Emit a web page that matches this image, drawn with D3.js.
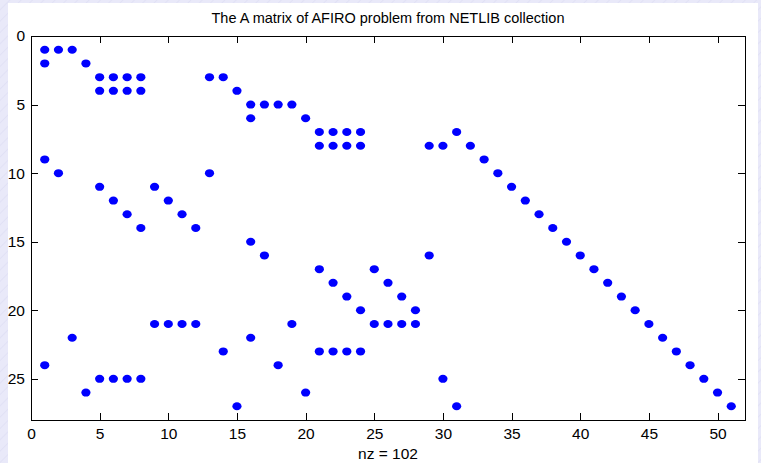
<!DOCTYPE html>
<html>
<head>
<meta charset="utf-8">
<script src="https://cdn.jsdelivr.net/npm/d3@7"></script>
<style>
  html, body { margin: 0; padding: 0; }
  body {
    width: 761px; height: 463px; overflow: hidden;
    background: repeating-linear-gradient(135deg, #e9e9f9 0px, #e9e9f9 6px, #e1e1f5 7px, #e9e9f9 8px);
  }
  svg { display: block; }
  text { font-family: "Liberation Sans", Arial, sans-serif; fill: #000; }
</style>
</head>
<body>
<div id="spy"></div>
<script>
// nonzero pattern of the AFIRO A matrix (row index, column index)
var rowIdx = [1, 2, 9, 24,  1, 10,  1, 22,  2, 26,
              3, 4, 11, 25,  3, 4, 12, 25,  3, 4, 13, 25,  3, 4, 14, 25,
              11, 21,  12, 21,  13, 21,  14, 21,
              3, 10,  3, 23,  4, 27,
              5, 6, 15, 22,  5, 16,  5, 24,  5, 21,  6, 26,
              7, 8, 17, 23,  7, 8, 18, 23,  7, 8, 19, 23,  7, 8, 20, 23,
              17, 21,  18, 21,  19, 21,  20, 21,
              8, 16,  8, 25,  7, 27,
              8, 9, 10, 11, 12, 13, 14, 15, 16, 17, 18, 19, 20, 21, 22, 23, 24, 25, 26, 27];
var colIdx = [1, 1, 1, 1,  2, 2,  3, 3,  4, 4,
              5, 5, 5, 5,  6, 6, 6, 6,  7, 7, 7, 7,  8, 8, 8, 8,
              9, 9,  10, 10,  11, 11,  12, 12,
              13, 13,  14, 14,  15, 15,
              16, 16, 16, 16,  17, 17,  18, 18,  19, 19,  20, 20,
              21, 21, 21, 21,  22, 22, 22, 22,  23, 23, 23, 23,  24, 24, 24, 24,
              25, 25,  26, 26,  27, 27,  28, 28,
              29, 29,  30, 30,  31, 31,
              32, 33, 34, 35, 36, 37, 38, 39, 40, 41, 42, 43, 44, 45, 46, 47, 48, 49, 50, 51];

var xTicks = [0, 5, 10, 15, 20, 25, 30, 35, 40, 45, 50];
var yTicks = [0, 5, 10, 15, 20, 25];
var nRows = 27, nCols = 51;

var titleText = "The A matrix of AFIRO problem from NETLIB collection";

var W = 761, H = 463;
var margin = { top: 36, right: 16, bottom: 43, left: 31 };

var svg = d3.select("#spy").append("svg")
    .attr("width", W)
    .attr("height", H);

// white figure area
svg.append("rect")
    .attr("x", 8).attr("y", 3)
    .attr("width", 750).attr("height", H - 3)
    .attr("fill", "#fff");

var x = d3.scaleLinear()
    .domain([0, nCols + 1])
    .range([margin.left, W - margin.right]);
var y = d3.scaleLinear()
    .domain([0, nRows + 1])
    .range([margin.top, H - margin.bottom]);

var tickLen = 7;

// bottom axis with labels
svg.append("g")
    .attr("transform", "translate(0," + y(nRows + 1) + ")")
    .call(d3.axisBottom(x).tickValues(xTicks).tickSizeInner(-tickLen).tickSizeOuter(0).tickPadding(8));
// top axis, ticks only
svg.append("g")
    .attr("transform", "translate(0," + y(0) + ")")
    .call(d3.axisTop(x).tickValues(xTicks).tickSizeInner(-tickLen).tickSizeOuter(0).tickFormat(""));
// left axis with labels
svg.append("g")
    .attr("transform", "translate(" + x(0) + ",0)")
    .call(d3.axisLeft(y).tickValues(yTicks).tickSizeInner(-tickLen).tickSizeOuter(0).tickPadding(6));
// right axis, ticks only
svg.append("g")
    .attr("transform", "translate(" + x(nCols + 1) + ",0)")
    .call(d3.axisRight(y).tickValues(yTicks).tickSizeInner(-tickLen).tickSizeOuter(0).tickFormat(""));

svg.selectAll(".domain").remove();
svg.selectAll(".tick line").attr("stroke", "#000").attr("shape-rendering", "crispEdges");
svg.selectAll(".tick text")
    .style("font-family", "'Liberation Sans', Arial, sans-serif")
    .style("font-size", "15.5px")
    .attr("fill", "#000");

// axes box
svg.append("rect")
    .attr("x", x(0)).attr("y", y(0))
    .attr("width", x(nCols + 1) - x(0))
    .attr("height", y(nRows + 1) - y(0))
    .attr("fill", "none")
    .attr("stroke", "#000")
    .attr("stroke-width", 1)
    .attr("shape-rendering", "crispEdges");

// nonzeros
var nz = rowIdx.map(function(r, i) { return { row: r, col: colIdx[i] }; });

svg.append("g").selectAll("ellipse")
    .data(nz)
    .enter()
    .append("ellipse")
    .attr("cx", function(d) { return x(d.col); })
    .attr("cy", function(d) { return y(d.row); })
    .attr("rx", 4.6)
    .attr("ry", 4)
    .attr("fill", "#0000ff");

// title
svg.append("text")
    .attr("x", (x(0) + x(nCols + 1)) / 2)
    .attr("y", 23)
    .attr("text-anchor", "middle")
    .style("font-size", "14.5px")
    .text(titleText);

// x label
svg.append("text")
    .attr("x", (x(0) + x(nCols + 1)) / 2)
    .attr("y", 459)
    .attr("text-anchor", "middle")
    .style("font-size", "15.5px")
    .text("nz = " + nz.length);
</script>
</body>
</html>
